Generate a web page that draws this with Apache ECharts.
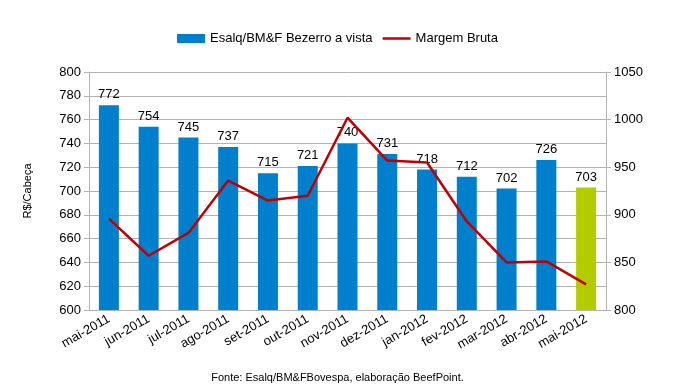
<!DOCTYPE html>
<html><head><meta charset="utf-8">
<script src="https://cdn.jsdelivr.net/npm/echarts@6/dist/echarts.min.js"></script>
<style>html,body{margin:0;padding:0;background:#fff}#c{width:675px;height:387px}</style>
</head><body><div id="c"></div>
<script>
const categories = ["mai-2011","jun-2011","jul-2011","ago-2011","set-2011","out-2011","nov-2011","dez-2011","jan-2012","fev-2012","mar-2012","abr-2012","mai-2012"];
const bezerro = [772,754,745,737,715,721,740,731,718,712,702,726,703];
const margem = [896,857,881,936,915,920,1002,957,955,893,850,851,827];
const leftTicks = {min:600,max:800,interval:20};
const rightTicks = {min:800,max:1050,interval:50};

const FONT = "Liberation Sans";
const BLUE = '#0080cc', GREEN = '#b3cc00', RED = '#c00000';
const chart = echarts.init(document.getElementById('c'), null, {renderer:'canvas'});
chart.setOption({
  animation:false,
  textStyle:{fontFamily:FONT},
  legend:{
    top:27, left:'center', itemGap:10, itemWidth:28, itemHeight:9,
    textStyle:{fontFamily:FONT,fontSize:13,color:'#000'},
    data:[
      {name:'Esalq/BM&F Bezerro a vista',icon:'rect',itemStyle:{color:BLUE}},
      {name:'Margem Bruta',icon:'path://M0,4 L28,4 L28,6.5 L0,6.5 Z',itemStyle:{color:RED}}
    ]
  },
  grid:{left:89,right:69,top:72,bottom:77},
  graphic:[
    {type:'text',left:'center',top:372,style:{text:'Fonte: Esalq/BM&FBovespa, elaboração BeefPoint.',font:'11px "Liberation Sans"',fill:'#000'}}
  ],
  xAxis:{
    type:'category',data:categories,
    axisLine:{lineStyle:{color:'#b3b3b3'}},
    axisTick:{lineStyle:{color:'#b3b3b3'},length:5},
    axisLabel:{rotate:30,fontFamily:FONT,fontSize:13,color:'#000',margin:8,interval:0}
  },
  yAxis:[
    {type:'value',min:leftTicks.min,max:leftTicks.max,interval:leftTicks.interval,
     name:'R$/Cabeça',nameLocation:'middle',nameGap:56,nameRotate:90,
     nameTextStyle:{fontFamily:FONT,fontSize:11,color:'#000'},
     axisLine:{show:true,lineStyle:{color:'#b3b3b3'}},
     axisTick:{show:true,length:5,lineStyle:{color:'#b3b3b3'}},
     axisLabel:{fontFamily:FONT,fontSize:13,color:'#000',margin:8,formatter:function(v){return String(v);}},
     splitLine:{lineStyle:{color:'#b3b3b3'}}},
    {type:'value',min:rightTicks.min,max:rightTicks.max,interval:rightTicks.interval,
     axisLine:{show:true,lineStyle:{color:'#b3b3b3'}},
     axisTick:{show:true,length:5,lineStyle:{color:'#b3b3b3'}},
     axisLabel:{fontFamily:FONT,fontSize:13,color:'#000',margin:8,formatter:function(v){return String(v);}},
     splitLine:{show:false}}
  ],
  series:[
    {name:'Esalq/BM&F Bezerro a vista',type:'bar',data:bezerro,barWidth:20,yAxisIndex:0,
     itemStyle:{color:function(p){return p.dataIndex===bezerro.length-1?GREEN:BLUE;}},
     label:{show:true,position:'top',distance:4,fontFamily:FONT,fontSize:13,color:'#000'}},
    {name:'Margem Bruta',type:'line',data:margem,yAxisIndex:1,symbol:'none',
     lineStyle:{color:RED,width:2.5},itemStyle:{color:RED}}
  ]
});
</script></body></html>
